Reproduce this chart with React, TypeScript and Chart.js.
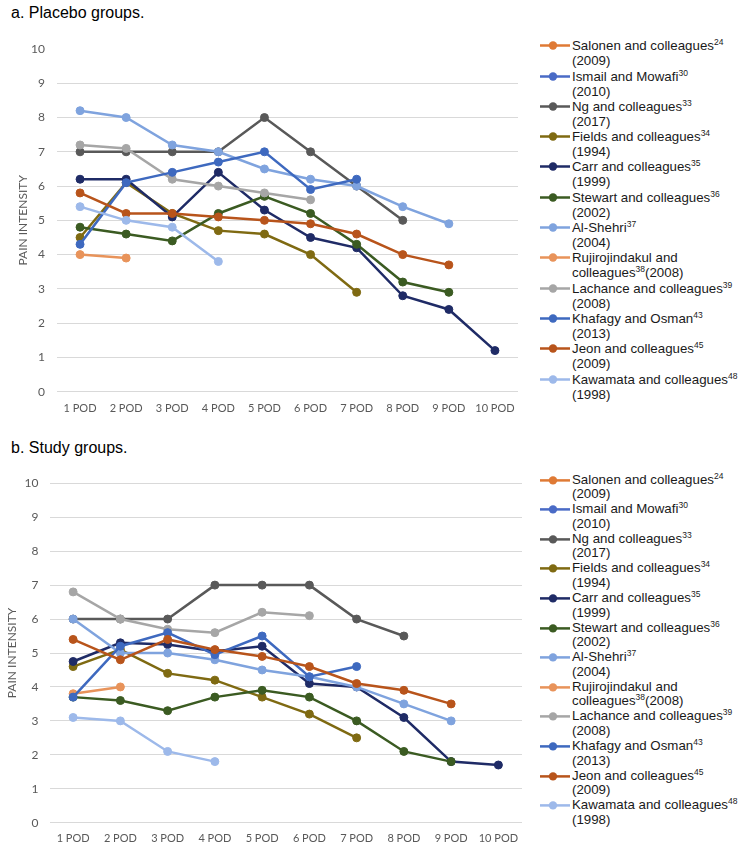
import React, { useEffect, useRef } from 'react';
import { Chart, registerables } from 'chart.js';

Chart.register(...registerables);

// ---------- data ----------
const CATEGORIES = ['1 POD', '2 POD', '3 POD', '4 POD', '5 POD', '6 POD', '7 POD', '8 POD', '9 POD', '10 POD'];
const Y_TICKS = [0, 1, 2, 3, 4, 5, 6, 7, 8, 9, 10];

const STUDY_NAMES = [
  'Salonen and colleagues', 'Ismail and Mowafi', 'Ng and colleagues', 'Fields and colleagues',
  'Carr and colleagues', 'Stewart and colleagues', 'Al-Shehri', 'Rujirojindakul and\ncolleagues',
  'Lachance and colleagues', 'Khafagy and Osman', 'Jeon and colleagues', 'Kawamata and colleagues',
];
const STUDY_REFS = ['24', '30', '33', '34', '35', '36', '37', '38', '39', '43', '45', '48'];
const STUDY_YEARS = ['(2009)', '(2010)', '(2017)', '(1994)', '(1999)', '(2002)', '(2004)', '(2008)', '(2008)', '(2013)', '(2009)', '(1998)'];
const YEAR_ON_NEW_LINE = [true, true, true, true, true, true, true, false, true, true, true, true];
const COLORS = ['#DF7A35', '#4A6BC6', '#595959', '#7F6A12', '#1F2B66', '#3B5B22', '#7FA3DE', '#E8935A', '#A6A6A6', '#3E69BF', '#B8541B', '#9DB9EA'];

// a. Placebo groups (series not distinguishable in the picture are left empty)
const PLACEBO_SALONEN: number[] = [];
const PLACEBO_ISMAIL: number[] = [];
const PLACEBO_NG = [7, 7, 7, 7, 8, 7, 6, 5];
const PLACEBO_FIELDS = [4.5, 6.1, 5.2, 4.7, 4.6, 4.0, 2.9];
const PLACEBO_CARR = [6.2, 6.2, 5.1, 6.4, 5.3, 4.5, 4.2, 2.8, 2.4, 1.2];
const PLACEBO_STEWART = [4.8, 4.6, 4.4, 5.2, 5.7, 5.2, 4.3, 3.2, 2.9];
const PLACEBO_ALSHEHRI = [8.2, 8.0, 7.2, 7.0, 6.5, 6.2, 6.0, 5.4, 4.9];
const PLACEBO_RUJIRO = [4.0, 3.9];
const PLACEBO_LACHANCE = [7.2, 7.1, 6.2, 6.0, 5.8, 5.6];
const PLACEBO_KHAFAGY = [4.3, 6.1, 6.4, 6.7, 7.0, 5.9, 6.2];
const PLACEBO_JEON = [5.8, 5.2, 5.2, 5.1, 5.0, 4.9, 4.6, 4.0, 3.7];
const PLACEBO_KAWAMATA = [5.4, 5.0, 4.8, 3.8];

// b. Study groups
const STUDY_SALONEN: number[] = [];
const STUDY_ISMAIL: number[] = [];
const STUDY_NG = [6, 6, 6, 7, 7, 7, 6, 5.5];
const STUDY_FIELDS = [4.6, 5.1, 4.4, 4.2, 3.7, 3.2, 2.5];
const STUDY_CARR = [4.75, 5.3, 5.25, 5.05, 5.2, 4.1, 4.0, 3.1, 1.8, 1.7];
const STUDY_STEWART = [3.7, 3.6, 3.3, 3.7, 3.9, 3.7, 3.0, 2.1, 1.8];
const STUDY_ALSHEHRI = [6.0, 5.0, 5.0, 4.8, 4.5, 4.3, 4.0, 3.5, 3.0];
const STUDY_RUJIRO = [3.8, 4.0];
const STUDY_LACHANCE = [6.8, 6.0, 5.7, 5.6, 6.2, 6.1];
const STUDY_KHAFAGY = [3.7, 5.2, 5.6, 4.95, 5.5, 4.3, 4.6];
const STUDY_JEON = [5.4, 4.8, 5.4, 5.1, 4.9, 4.6, 4.1, 3.9, 3.5];
const STUDY_KAWAMATA = [3.1, 3.0, 2.1, 1.8];

const PLACEBO_SERIES = [
  PLACEBO_SALONEN, PLACEBO_ISMAIL, PLACEBO_NG, PLACEBO_FIELDS, PLACEBO_CARR, PLACEBO_STEWART,
  PLACEBO_ALSHEHRI, PLACEBO_RUJIRO, PLACEBO_LACHANCE, PLACEBO_KHAFAGY, PLACEBO_JEON, PLACEBO_KAWAMATA,
];
const STUDY_SERIES = [
  STUDY_SALONEN, STUDY_ISMAIL, STUDY_NG, STUDY_FIELDS, STUDY_CARR, STUDY_STEWART,
  STUDY_ALSHEHRI, STUDY_RUJIRO, STUDY_LACHANCE, STUDY_KHAFAGY, STUDY_JEON, STUDY_KAWAMATA,
];

// ---------- components ----------
type Geom = {
  top: number; width: number; height: number;
  yAxisWidth: number; xAxisHeight: number; padTop: number; padRight: number;
  yTickPad: number; yTitlePad: number; xTickPad: number; hideTopGrid: boolean;
};

function LineChart({ series, geom }: { series: number[][]; geom: Geom }) {
  const ref = useRef<HTMLCanvasElement | null>(null);
  useEffect(() => {
    if (!ref.current) return;
    const n = series.length;
    const chart = new Chart(ref.current, {
      type: 'line',
      data: {
        labels: CATEGORIES,
        datasets: series.map((d, i) => ({
          label: STUDY_NAMES[i],
          data: d,
          borderColor: COLORS[i],
          backgroundColor: COLORS[i],
          pointBackgroundColor: COLORS[i],
          pointBorderColor: COLORS[i],
          pointRadius: 4,
          pointBorderWidth: 1,
          borderWidth: 2.5,
          tension: 0,
          fill: false,
          order: n - i,
        })),
      },
      options: {
        responsive: false,
        animation: false,
        events: [],
        layout: { padding: { top: geom.padTop, right: geom.padRight, left: 0, bottom: 0 } },
        plugins: { legend: { display: false }, tooltip: { enabled: false }, title: { display: false } },
        scales: {
          x: {
            type: 'category',
            offset: true,
            grid: { display: false, drawTicks: false },
            border: { display: false },
            ticks: {
              color: '#595959',
              font: { family: 'Lato', size: 11 },
              padding: geom.xTickPad,
              autoSkip: false,
              maxRotation: 0,
            },
            afterFit: (s: any) => { s.height = geom.xAxisHeight; },
          },
          y: {
            min: 0,
            max: 10,
            afterBuildTicks: (s: any) => { s.ticks = Y_TICKS.map((v) => ({ value: v })); },
            grid: {
              drawTicks: false,
              lineWidth: 1,
              color: (ctx: any) => (geom.hideTopGrid && ctx.tick && ctx.tick.value === 10 ? 'rgba(0,0,0,0)' : '#D9D9D9'),
            },
            border: { display: false },
            ticks: { color: '#595959', font: { family: 'Lato', size: 12 }, padding: geom.yTickPad },
            title: {
              display: true,
              text: 'PAIN INTENSITY',
              color: '#595959',
              font: { family: 'Lato', size: 12 },
              padding: { top: geom.yTitlePad, bottom: 0 },
            },
            afterFit: (s: any) => { s.width = geom.yAxisWidth; },
          },
        },
      },
    });
    return () => chart.destroy();
  }, []);
  return (
    <canvas
      ref={ref}
      width={geom.width}
      height={geom.height}
      style={{ position: 'absolute', left: 0, top: geom.top, width: geom.width, height: geom.height }}
    />
  );
}

function Legend({ top, step, lineHeight }: { top: number; step: number; lineHeight: number }) {
  return (
    <>
      {STUDY_NAMES.map((name, i) => {
        const parts = name.split('\n');
        return (
          <div key={i} style={{ position: 'absolute', left: 540, top: top + i * step, width: 198 }}>
            <svg width={30} height={lineHeight} style={{ position: 'absolute', left: 0, top: 0 }}>
              <line x1={0} x2={30} y1={lineHeight / 2} y2={lineHeight / 2} stroke={COLORS[i]} strokeWidth={2.5} />
              <circle cx={13} cy={lineHeight / 2} r={4.2} fill={COLORS[i]} />
            </svg>
            <div
              style={{
                position: 'absolute', left: 32, top: 0, whiteSpace: 'nowrap',
                fontFamily: '"Liberation Sans", Arial, sans-serif', fontSize: 13.3,
                lineHeight: `${lineHeight}px`, color: '#1a1a1a',
              }}
            >
              {parts.length > 1 ? (<>{parts[0]}<br />{parts[1]}</>) : parts[0]}
              <sup style={{ fontSize: 8.5, lineHeight: 0, verticalAlign: 5 }}>{STUDY_REFS[i]}</sup>
              {YEAR_ON_NEW_LINE[i] ? <br /> : null}
              {STUDY_YEARS[i]}
            </div>
          </div>
        );
      })}
    </>
  );
}

const titleStyle: React.CSSProperties = {
  position: 'absolute', left: 11, fontFamily: '"Liberation Sans", Arial, sans-serif',
  fontSize: 16, lineHeight: '20px', color: '#000', whiteSpace: 'nowrap',
};

export default function App() {
  const geomA: Geom = {
    top: 0, width: 530, height: 425, yAxisWidth: 57, xAxisHeight: 33.3, padTop: 49, padRight: 12,
    yTickPad: 12, yTitlePad: 16, xTickPad: 10, hideTopGrid: true,
  };
  const geomB: Geom = {
    top: 434, width: 530, height: 420, yAxisWidth: 49.5, xAxisHeight: 31.3, padTop: 49.3, padRight: 8,
    yTickPad: 11, yTitlePad: 5.3, xTickPad: 9, hideTopGrid: false,
  };
  return (
    <div style={{ position: 'absolute', left: 0, top: 0, width: 738, height: 854, background: '#fff', overflow: 'hidden' }}>
      <div style={{ ...titleStyle, top: 3 }}>a. Placebo groups.</div>
      <LineChart series={PLACEBO_SERIES} geom={geomA} />
      <Legend top={38.2} step={30.3} lineHeight={15} />
      <div style={{ ...titleStyle, top: 438 }}>b. Study groups.</div>
      <LineChart series={STUDY_SERIES} geom={geomB} />
      <Legend top={472.5} step={29.6} lineHeight={14.8} />
    </div>
  );
}
